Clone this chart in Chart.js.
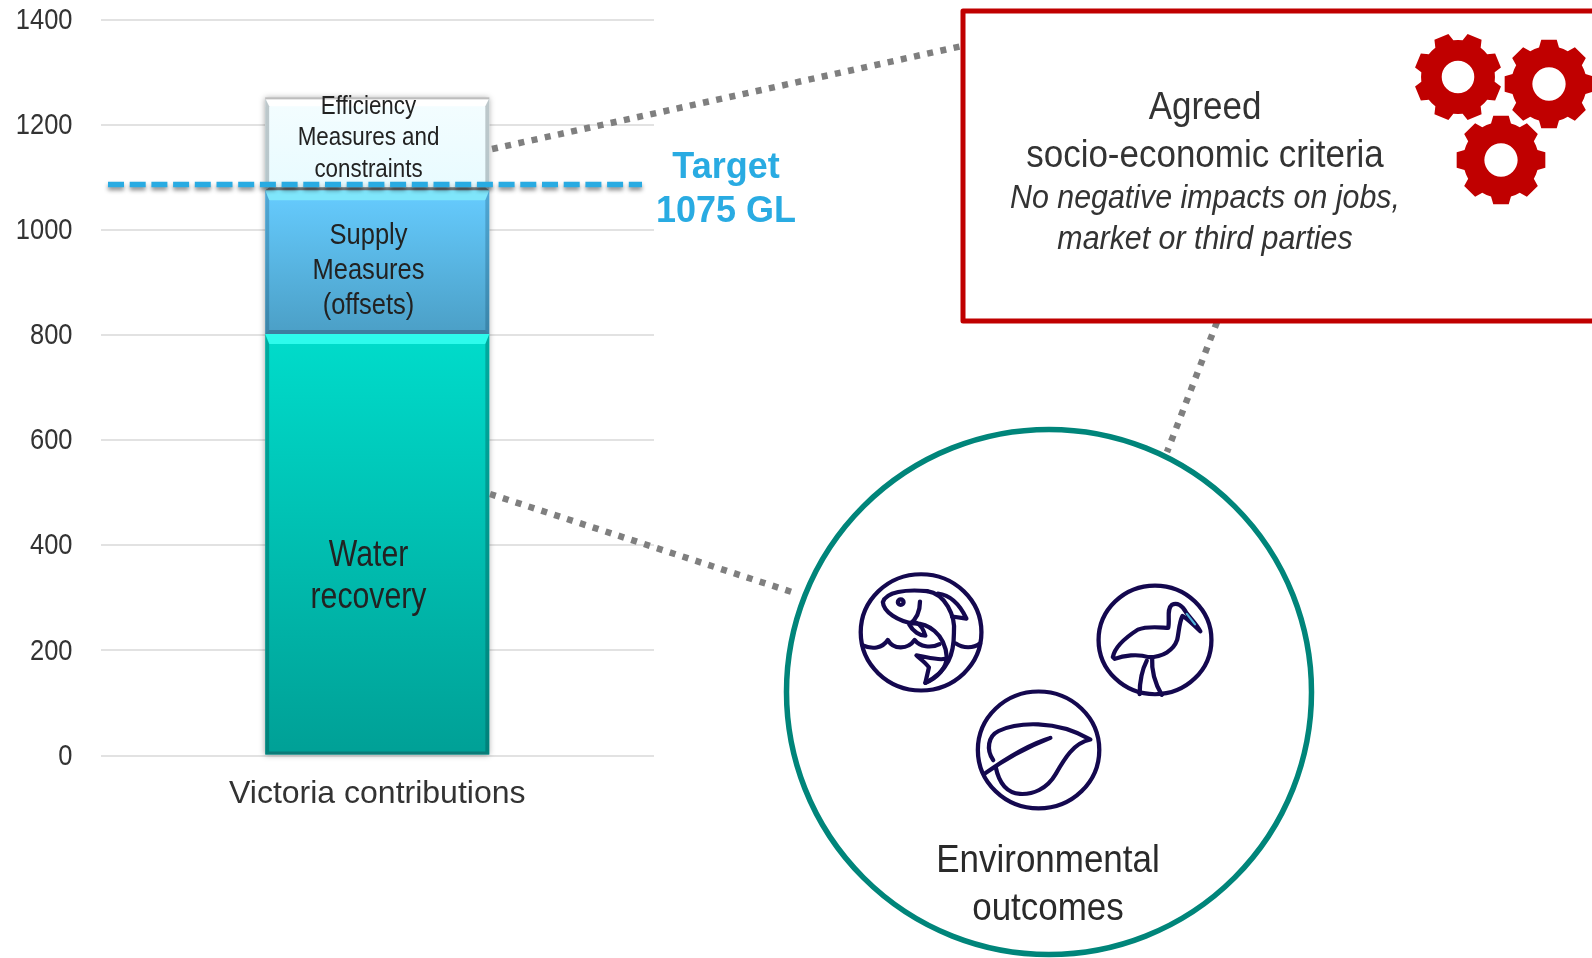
<!DOCTYPE html>
<html>
<head>
<meta charset="utf-8">
<title>Victoria contributions</title>
<script src="https://cdn.jsdelivr.net/npm/chart.js@4"></script>
<style>
  html, body { margin: 0; padding: 0; background: #fff; overflow: hidden; }
  #chart { position: absolute; left: 0; top: 0; }
</style>
</head>
<body>
<canvas id="chart" width="1592" height="958"></canvas>
<script>
// Chart data
const categories = ["Victoria contributions"];
const waterRecovery = [802];
const supplyMeasures = [273];
const efficiencyMeasures = [175];
const yTicks = [0, 200, 400, 600, 800, 1000, 1200, 1400];
const targetLineValue = [1086];

const waterLabel = ["Water", "recovery"];
const supplyLabel = ["Supply", "Measures", "(offsets)"];
const efficiencyLabel = ["Efficiency", "Measures and", "constraints"];
const targetLabel = ["Target", "1075 GL"];
const boxHeading = ["Agreed", "socio-economic criteria"];
const boxNote = ["No negative impacts on jobs,", "market or third parties"];
const circleLabel = ["Environmental", "outcomes"];

const SANS = '"Liberation Sans", Arial, sans-serif';
const TEXT = "#333333";
const DARK = "#222222";

// Vertical gradient across one stacked bar, from the y scale
function barGradient(context, lower, upper, stops) {
  const chart = context.chart;
  const y = chart.scales.y;
  if (!chart.chartArea || !y) return stops[0];
  const g = chart.ctx.createLinearGradient(0, y.getPixelForValue(upper), 0, y.getPixelForValue(lower));
  g.addColorStop(0, stops[0]);
  g.addColorStop(1, stops[1]);
  return g;
}

// No narrow font is installed, so squeeze the text sideways
function centredLines(ctx, lines, x, ys, font, color, squeeze) {
  ctx.save();
  ctx.font = font;
  ctx.fillStyle = color;
  ctx.textAlign = "center";
  ctx.textBaseline = "middle";
  ctx.translate(x, 0);
  ctx.scale(squeeze, 1);
  lines.forEach((line, i) => ctx.fillText(line, 0, ys[i]));
  ctx.restore();
}

function dotted(ctx, x1, y1, x2, y2) {
  ctx.save();
  ctx.strokeStyle = "#7f7f7f";
  ctx.lineWidth = 6.5;
  ctx.setLineDash([6, 7.5]);
  ctx.beginPath();
  ctx.moveTo(x1, y1);
  ctx.lineTo(x2, y2);
  ctx.stroke();
  ctx.restore();
}

function gear(ctx, cx, cy, radius, turn) {
  const teeth = 8;
  const root = radius * 0.84;
  const hole = radius * 0.37;
  const step = (Math.PI * 2) / teeth;
  const path = new Path2D();
  for (let i = 0; i < teeth; i++) {
    const a = (i + turn) * step - Math.PI / 2;
    [[-0.5, root], [-0.34, root], [-0.22, radius], [0.22, radius], [0.34, root]].forEach((p, j) => {
      const px = cx + Math.cos(a + p[0] * step) * p[1];
      const py = cy + Math.sin(a + p[0] * step) * p[1];
      if (i === 0 && j === 0) path.moveTo(px, py);
      else path.lineTo(px, py);
    });
  }
  path.closePath();
  path.moveTo(cx + hole, cy);
  path.arc(cx, cy, hole, 0, Math.PI * 2);
  ctx.fillStyle = "#c00000";
  ctx.fill(path, "evenodd");
}

// Bevel edges on top of a bar segment
function bevel(ctx, el, topColor, bottomColor, sideColor, topH, bottomH) {
  const left = el.x - el.width / 2;
  const right = el.x + el.width / 2;
  const top = el.y;
  const bottom = el.base;
  const side = 4;
  const quad = (pts, color) => {
    ctx.fillStyle = color;
    ctx.beginPath();
    pts.forEach((p, i) => (i ? ctx.lineTo(p[0], p[1]) : ctx.moveTo(p[0], p[1])));
    ctx.closePath();
    ctx.fill();
  };
  quad([[left, top], [right, top], [right - side, top + topH], [left + side, top + topH]], topColor);
  quad([[left, bottom], [right, bottom], [right - side, bottom - bottomH], [left + side, bottom - bottomH]], bottomColor);
  quad([[left, top], [left + side, top + topH], [left + side, bottom - bottomH], [left, bottom]], sideColor);
  quad([[right, top], [right - side, top + topH], [right - side, bottom - bottomH], [right, bottom]], sideColor);
}

// Everything around the bars: target line, callouts, icons
const overlay = {
  id: "overlay",
  beforeDatasetsDraw(chart) {
    const ctx = chart.ctx;
    const el = chart.getDatasetMeta(0).data[0];
    const top = chart.getDatasetMeta(2).data[0].y;
    ctx.save();
    ctx.shadowColor = "rgba(0,0,0,0.35)";
    ctx.shadowBlur = 6;
    ctx.fillStyle = "#ffffff";
    ctx.fillRect(el.x - el.width / 2, top, el.width, el.base - top);
    ctx.restore();
  },
  afterDatasetsDraw(chart) {
    const ctx = chart.ctx;
    const y = chart.scales.y;
    const water = chart.getDatasetMeta(0).data[0];
    const supply = chart.getDatasetMeta(1).data[0];
    const eff = chart.getDatasetMeta(2).data[0];

    ctx.save();
    bevel(ctx, water, "#2dfbec", "#0b7b78", "rgba(0,60,60,0.3)", 10, 3);
    bevel(ctx, supply, "#7fe6fb", "#3d7f9f", "rgba(0,40,70,0.22)", 10, 4);
    bevel(ctx, eff, "#ffffff", "#70777a", "rgba(90,100,105,0.35)", 8, 3);
    ctx.fillStyle = "#bdbdbd";
    ctx.fillRect(eff.x - eff.width / 2, eff.y - 1, eff.width, 2);

    centredLines(ctx, efficiencyLabel, 368.5, [107, 138, 170], "26px " + SANS, DARK, 0.86);
    centredLines(ctx, supplyLabel, 368.5, [236, 271, 306], "29px " + SANS, DARK, 0.88);
    centredLines(ctx, waterLabel, 368.5, [556, 598], "36px " + SANS, DARK, 0.84);

    // Target line, dashed with a soft shadow
    const py = y.getPixelForValue(targetLineValue[0]);
    ctx.save();
    ctx.strokeStyle = "#29abe2";
    ctx.lineWidth = 5.5;
    ctx.setLineDash([16, 5.7]);
    ctx.shadowColor = "rgba(0,0,0,0.45)";
    ctx.shadowBlur = 4;
    ctx.shadowOffsetY = 3;
    ctx.beginPath();
    ctx.moveTo(108, py);
    ctx.lineTo(642, py);
    ctx.stroke();
    ctx.restore();
    centredLines(ctx, targetLabel, 726, [168, 212], "bold 36px " + SANS, "#29abe2", 1);

    dotted(ctx, 492, 149, 960, 46.5);
    dotted(ctx, 490, 494, 798, 594);
    dotted(ctx, 1217, 322, 1167, 452);

    // Socio-economic box
    ctx.strokeStyle = "#c00000";
    ctx.lineWidth = 5;
    ctx.lineJoin = "round";
    ctx.strokeRect(963, 11, 660, 310);
    centredLines(ctx, boxHeading, 1205, [109, 157], "38px " + SANS, TEXT, 0.92);
    centredLines(ctx, boxNote, 1205, [199, 240], "italic 33px " + SANS, TEXT, 0.92);
    gear(ctx, 1458, 77, 44, 0.5);
    gear(ctx, 1549, 84, 45, 0);
    gear(ctx, 1501, 160, 45, 0);

    // Environmental outcomes circle
    ctx.strokeStyle = "#00857a";
    ctx.lineWidth = 5.5;
    ctx.beginPath();
    ctx.arc(1049, 692, 262.5, 0, Math.PI * 2);
    ctx.stroke();
    centredLines(ctx, circleLabel, 1048, [862, 910], "38px " + SANS, "#2a2a2a", 0.92);
    icons(ctx);
    ctx.restore();
  }
};

// Fish, bird and leaf outlines
function icons(ctx) {
  ctx.save();
  ctx.translate(770, 420);
  ctx.scale(1 / 2.8, 1 / 2.91);
  ctx.strokeStyle = "#14084f";
  ctx.lineWidth = 12;
  ctx.lineCap = "round";
  ctx.lineJoin = "round";
  [[423, 618, 169], [1078, 640, 158], [752, 960, 170]].forEach((c) => {
    ctx.beginPath();
    ctx.arc(c[0], c[1], c[2], 0, Math.PI * 2);
    ctx.stroke();
  });
  [
    "M258 655C285 668 315 665 330 640C345 668 385 670 405 640C420 660 450 665 475 652M520 650C540 665 570 665 588 650",
    "M440 498C380 492 325 500 316 530C318 560 360 585 400 592C440 590 490 620 495 690C495 720 470 750 435 765L445 720C435 705 420 695 410 685C440 690 470 700 490 695",
    "M440 498C490 505 520 570 515 620C515 680 500 730 435 765",
    "M470 505C510 510 535 545 550 578L510 572",
    "M420 528C420 560 410 580 390 595C400 615 420 628 435 628C430 610 420 595 410 590",
    "M374 530A8 8 0 1 1 358 530A8 8 0 1 1 374 530",
    "M960 690C965 660 1000 630 1030 610C1060 598 1100 605 1115 605C1120 580 1110 550 1125 538C1140 530 1155 540 1165 560C1180 580 1195 595 1205 615C1185 595 1170 580 1155 570C1145 590 1145 620 1140 640C1130 670 1100 690 1060 690C1030 680 990 685 965 695Z",
    "M1055 700C1040 730 1035 770 1035 798M1070 692C1068 730 1080 770 1097 800",
    "M625 990C605 960 610 920 640 905C690 880 800 870 897 930C850 940 825 985 800 1030C775 1075 735 1090 700 1088C660 1085 640 1050 632 1010",
    "M600 1030C640 1000 700 960 785 925C720 945 660 985 600 1030Z"
  ].forEach((d) => ctx.stroke(new Path2D(d)));
  ctx.strokeStyle = "#4fb3d9";
  ctx.lineWidth = 6;
  ctx.stroke(new Path2D("M1167 564L1190 595"));
  ctx.restore();
}

const waterTop = waterRecovery[0];
const supplyTop = waterTop + supplyMeasures[0];
const efficiencyTop = supplyTop + efficiencyMeasures[0];

new Chart(document.getElementById("chart"), {
  type: "bar",
  data: {
    labels: categories,
    datasets: [
      {
        label: waterLabel.join(" "),
        data: waterRecovery,
        backgroundColor: (c) => barGradient(c, 0, waterTop, ["#00dccb", "#00a096"]),
      },
      {
        label: supplyLabel.join(" "),
        data: supplyMeasures,
        backgroundColor: (c) => barGradient(c, waterTop, supplyTop, ["#66ccff", "#4b9fc6"]),
      },
      {
        label: efficiencyLabel.join(" "),
        data: efficiencyMeasures,
        backgroundColor: (c) => barGradient(c, supplyTop, efficiencyTop, ["#f4fdff", "#e8fbff"]),
      },
    ],
  },
  options: {
    responsive: false,
    animation: false,
    events: [],
    layout: { padding: { left: 0, right: 938, top: 19.5, bottom: 142.5 } },
    plugins: { legend: { display: false }, tooltip: { enabled: false } },
    datasets: { bar: { barPercentage: 0.405, categoryPercentage: 1 } },
    scales: {
      x: {
        stacked: true,
        grid: { display: false },
        border: { display: false },
        afterFit: (scale) => { scale.height = 60; },
        ticks: { color: TEXT, padding: 11, font: { family: SANS, size: 32 } },
      },
      y: {
        stacked: true,
        min: 0,
        max: 1400,
        afterFit: (scale) => {
          scale.width = 100.5;
          scale.paddingTop = 0;
          scale.paddingBottom = 0;
          // same squeeze as the other text, about the labels' right edge
          const drawLabels = Object.getPrototypeOf(scale).drawLabels;
          scale.drawLabels = function (area) {
            const ctx = this.ctx;
            ctx.save();
            ctx.translate(72.5, 1);
            ctx.scale(0.85, 1);
            ctx.translate(-72.5, 0);
            drawLabels.call(this, area);
            ctx.restore();
          };
        },
        afterBuildTicks: (scale) => { scale.ticks = yTicks.map((v) => ({ value: v })); },
        grid: { color: "#e2e2e2", lineWidth: 2, drawTicks: false },
        border: { display: false },
        ticks: { color: TEXT, padding: 28, callback: (v) => String(v), font: { family: SANS, size: 30 } },
      },
    },
  },
  plugins: [overlay],
});
</script>
</body>
</html>
